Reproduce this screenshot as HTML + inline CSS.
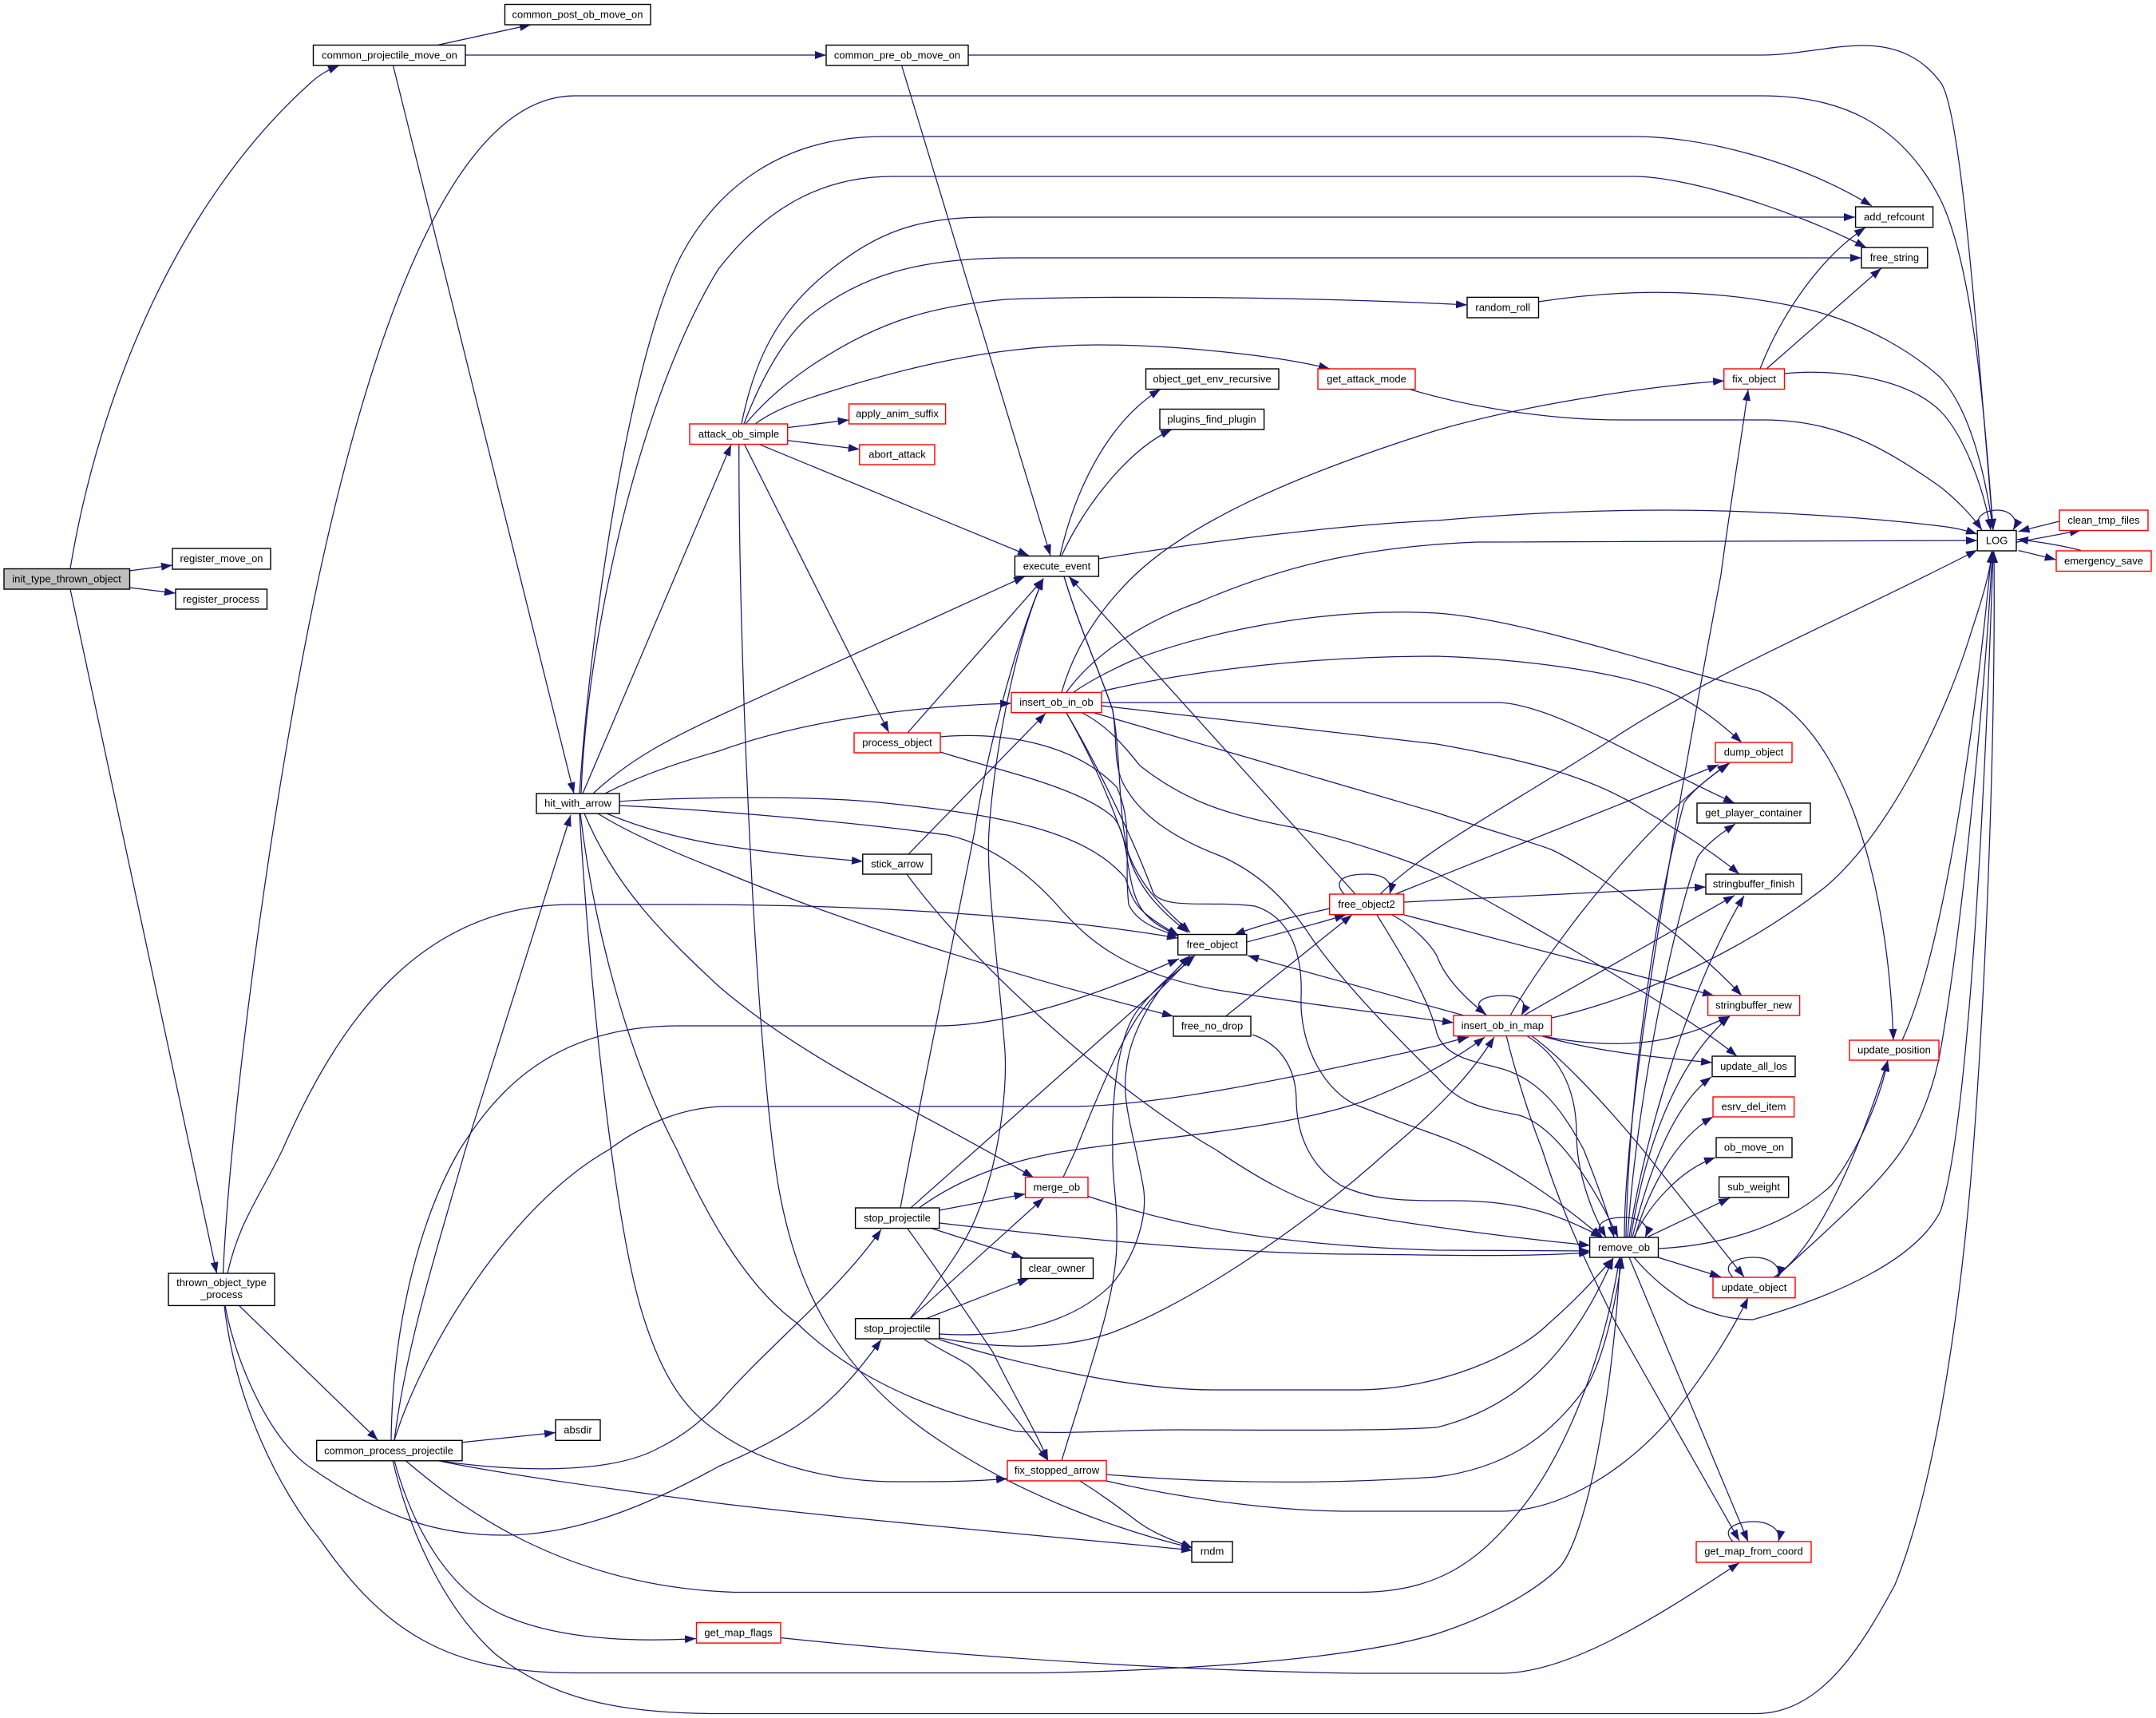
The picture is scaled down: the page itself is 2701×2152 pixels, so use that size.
<!DOCTYPE html>
<html>
<head>
<meta charset="utf-8">
<style>
html,body{margin:0;padding:0;background:#fff}
svg{display:block}
.e path{fill:none;stroke:#191970;stroke-width:1.25;marker-end:url(#a)}
.n rect{fill:#fff;stroke:#000;stroke-width:1.4}
.n rect.r{stroke:#f00}
.n rect.g{fill:#bfbfbf}
.n text{font-family:"Liberation Sans",sans-serif;font-size:13px;text-anchor:middle;fill:#000;transform:translateY(-0.5px)}
</style>
</head>
<body>
<svg xmlns="http://www.w3.org/2000/svg" width="2701" height="2152" viewBox="0 0 2701 2152">
<defs>
<marker id="a" markerUnits="userSpaceOnUse" markerWidth="16" markerHeight="12" refX="14" refY="5" orient="auto"><polygon points="0,0 14,5 0,10" fill="#191970"/></marker>
</defs>
<rect width="2701" height="2152" fill="#fff"/>
<g class="e">
<path d="M88,712 C125,490 225,250 390,103 C402,92 413,87 425,82"/>
<path d="M162,715 L216,708"/>
<path d="M162,736 L220,743"/>
<path d="M88,738 L271.5,1595"/>
<path d="M548,56.5 L665,31"/>
<path d="M583,69 L1035,69"/>
<path d="M492.5,82 L719,994"/>
<path d="M1213,69 L2207,69 C2250,69 2295,57 2334,57 C2380,57 2410,75 2431,103 C2456,135 2475,400 2497,664"/>
<path d="M1129.6,82 L1316,696"/>
<path d="M279.5,1595 C288,1400 340,1000 400,720 C450,490 550,120 720,120 L2207,120 C2300,120 2380,150 2431,250 C2470,330 2485,500 2497,664"/>
<path d="M726,994 C740,780 790,440 855,317 C900,235 980,171 1107,171 L2047,171 C2130,171 2250,200 2345,258"/>
<path d="M728,994 C735,800 800,500 900,337 C960,260 1030,221 1118,221 L2047,221 C2110,221 2240,260 2338,310"/>
<path d="M730,994 L916,557"/>
<path d="M743,994 C790,950 840,925 900,897 L1284,722"/>
<path d="M758,994 C800,972 850,955 900,941 C1000,905 1130,885 1267,881"/>
<path d="M776,1004 C820,1000 1000,995 1100,1005 C1250,1020 1360,1040 1410,1100 C1420,1130 1420,1140 1477,1172"/>
<path d="M776,1009 C900,1015 1070,1030 1187,1046 C1250,1060 1300,1105 1330,1140 C1370,1185 1420,1222 1531,1241 C1620,1255 1720,1268 1821,1281"/>
<path d="M760,1019 C800,1036 850,1050 900,1058 C960,1068 1020,1074 1081,1079"/>
<path d="M749,1019 C790,1045 850,1070 900,1089.5 C1080,1165 1300,1230 1470,1273"/>
<path d="M732,1019 C770,1110 830,1170 900,1235 C1010,1330 1150,1390 1295,1475"/>
<path d="M726,1019 C740,1250 770,1530 804,1643 C830,1728 860,1768 900,1794 C960,1837 1050,1857 1130,1856 C1175,1856 1220,1856 1262,1852"/>
<path d="M727,1019 C745,1170 790,1330 848,1440 C880,1510 930,1608 998,1657 C1050,1708 1130,1758 1273,1793 C1340,1797 1400,1791 1474,1791 C1600,1791 1720,1793 1800,1788 C1880,1768 1960,1718 2021,1576"/>
<path d="M925.8,557 C925,800 945,1300 975,1485 C995,1598 1040,1718 1187,1811 C1280,1872 1400,1917 1494,1939"/>
<path d="M986.7,535.6 L1063.6,526"/>
<path d="M986.7,551.7 L1076.8,562.7"/>
<path d="M951.7,556.8 L1289,696"/>
<path d="M932.7,556.8 L1113.5,917.4"/>
<path d="M1137,918 L1307.5,724.6"/>
<path d="M1178,923 C1240,917 1340,925 1399,986 C1420,1030 1408,1080 1414,1133 C1422,1150 1440,1163 1477,1172"/>
<path d="M1178,942 C1250,965 1350,985 1394,1023 C1420,1050 1405,1120 1440,1150 C1450,1160 1465,1167 1477,1172"/>
<path d="M1333,722 C1350,780 1385,860 1394,890 C1405,950 1400,1020 1414,1070 C1430,1110 1450,1130 1491,1168"/>
<path d="M1333,722 C1350,780 1385,860 1394,890 C1400,930 1395,950 1405,977 C1425,1020 1470,1050 1531,1073 C1590,1100 1620,1140 1646,1179 C1690,1240 1760,1310 1800,1349 C1830,1385 1860,1388 1903,1397 C1950,1410 2000,1490 2027,1550"/>
<path d="M1376,700 C1500,680 1680,657 1800,652 C1900,643 2000,639 2087,639 C2200,639 2340,648 2431,659 C2450,661 2465,665 2477,669"/>
<path d="M1328,696 C1345,620 1385,530 1454,487.5"/>
<path d="M1330,696 C1355,640 1410,565 1468,538"/>
<path d="M494,1804 C510,1678 550,1558 583,1440 L715,1021"/>
<path d="M490,1804 C492,1648 530,1519 576,1440 C620,1370 690,1285 850,1285 L1175,1285 C1270,1285 1390,1240 1477,1201"/>
<path d="M494,1804 C530,1688 640,1509 763,1440 C810,1405 860,1386 910,1386 L1340,1386 C1450,1386 1620,1350 1800,1310 C1815,1305 1828,1302 1840,1299"/>
<path d="M285,1595 C300,1529 325,1500 354,1440 C420,1290 520,1133 717,1133 L860,1133 C1060,1133 1300,1145 1476,1175"/>
<path d="M282,1635 C295,1708 340,1807 390,1839 C480,1902 550,1923 631,1923 C720,1923 810,1887 900,1837 C990,1798 1040,1768 1104,1678"/>
<path d="M281,1635 C295,1758 350,1867 402,1930 C480,2042 560,2095.5 720,2095.5 L1300,2095.5 C1500,2092 1700,2077 1800,2046.5 C1860,2027 1920,1997 1955,1962 C1990,1917 2020,1748 2030,1575"/>
<path d="M299.6,1635.5 L473.5,1804"/>
<path d="M579,1806.8 L696,1794.5"/>
<path d="M494,1829.5 C515,1907 560,1997 640,2027 C710,2055 800,2056.5 872,2052.5"/>
<path d="M492,1829.5 C515,1927 560,2017 620,2071.5 C690,2126.5 770,2146.5 900,2146.5 L2200,2146.5 C2280,2146.5 2330,2066.5 2374,1985 C2430,1847 2460,1598 2472,1440 C2490,1200 2500,900 2498,691"/>
<path d="M508,1829.5 C570,1882 700,1987 920,1994.5 L1700,1994.5 C1800,1994.5 1850,1957 1900,1897 C1960,1827 2010,1698 2029,1575"/>
<path d="M548,1829.5 C610,1839 750,1852 821,1816 C860,1797 880,1778 900,1758 C960,1688 1050,1618 1104,1540"/>
<path d="M548,1829.5 C630,1847 780,1867 900,1883 C1100,1907 1350,1927 1494,1942"/>
<path d="M1128,1513 C1160,1340 1210,1100 1221,1041 C1235,950 1270,810 1307,725"/>
<path d="M1141,1513 L1497,1197"/>
<path d="M1150,1514 C1210,1470 1280,1450 1348,1440 C1450,1425 1600,1415 1704,1381 C1760,1360 1820,1330 1860,1299"/>
<path d="M1176.7,1516 L1284.6,1495.5"/>
<path d="M1167,1538.6 L1281.7,1575.5"/>
<path d="M1137,1539 C1180,1598 1220,1658 1244,1694 C1270,1748 1295,1787 1313,1829.5"/>
<path d="M1177,1532 C1350,1552 1550,1571 1700,1571 C1800,1572 1900,1575 1992,1569"/>
<path d="M1140,1652 C1180,1598 1210,1559 1225,1519 C1250,1460 1262,1370 1259,1317 C1250,1200 1235,1100 1239,1041 C1245,950 1270,810 1307,725"/>
<path d="M1140,1652 L1307.5,1500.6"/>
<path d="M1159.4,1652 L1289,1601.5"/>
<path d="M1177,1671 C1250,1676 1340,1663 1394,1607.5 C1425,1568 1440,1519 1431,1480 C1420,1420 1405,1380 1411,1340 C1415,1300 1440,1245 1491,1197"/>
<path d="M1330,1829.5 C1370,1698 1400,1618 1399,1552.5 C1400,1500 1393,1480 1394,1440 C1393,1400 1395,1300 1428,1262 C1445,1240 1470,1220 1491,1197"/>
<path d="M1332,1474.5 L1348,1440 C1380,1360 1410,1290 1434,1262 C1450,1240 1475,1220 1494,1197"/>
<path d="M1177,1676 C1240,1688 1320,1693 1388,1671 C1480,1638 1620,1549 1741,1440 C1800,1390 1840,1350 1872,1299"/>
<path d="M1158,1678 C1190,1698 1205,1703 1216,1712 C1245,1738 1280,1787 1313,1829.5"/>
<path d="M1177,1678 C1270,1708 1420,1741 1520,1741 L1700,1741 C1800,1741 1900,1698 1940,1658 C1980,1623 2000,1599 2021,1576"/>
<path d="M1352,1854.5 C1380,1872 1400,1887 1420,1902 C1445,1922 1470,1929 1494,1939"/>
<path d="M1386,1847 C1480,1855 1620,1862 1800,1850 C1900,1837 1950,1788 1989,1735 C2010,1698 2025,1628 2032,1575"/>
<path d="M1386,1855 C1480,1877 1600,1893 1690,1893 L1880,1893 C1960,1893 2040,1837 2093,1776 C2130,1728 2165,1678 2190,1625.5"/>
<path d="M1363,1498.5 C1440,1524 1560,1559 1800,1566 L1992,1567"/>
<path d="M1138,1070 L1310,893.5"/>
<path d="M1136,1095 C1220,1210 1400,1370 1523,1440 C1580,1479 1620,1499 1663,1514 C1730,1529 1880,1549 1992,1560"/>
<path d="M1536,1272.6 L1693.8,1146"/>
<path d="M1569,1296 C1610,1310 1624,1345 1624,1380 C1625,1420 1640,1460 1680,1485 C1720,1504 1760,1504 1820,1504 C1900,1504 1950,1519 2007,1550"/>
<path d="M1562,1180 C1600,1170 1640,1160 1686,1146"/>
<path d="M1666,1138 C1620,1148 1580,1158 1546,1171"/>
<path d="M1698,1120 L1339,722"/>
<path d="M1684,1120 C1670,1105 1680,1095 1712,1095 C1735,1095 1745,1105 1741,1120"/>
<path d="M1729,1120 C1790,1060 1890,1010 2018,927 C2150,840 2300,780 2477,689"/>
<path d="M1748,1120 L2153,958"/>
<path d="M1759,1130 C1850,1125 2000,1118 2137,1111"/>
<path d="M1759,1146 L2147,1247"/>
<path d="M1744,1146 C1770,1160 1790,1180 1800,1197 C1810,1225 1835,1250 1862,1271"/>
<path d="M1725,1146 C1755,1195 1790,1250 1800,1294 C1810,1325 1850,1330 1875,1337 C1930,1350 1960,1395 1984,1440 C2000,1480 2015,1520 2022,1550"/>
<path d="M1834,1272 L1563,1197"/>
<path d="M1862,1272 C1840,1255 1860,1247 1884,1247 C1905,1247 1915,1255 1906,1272"/>
<path d="M1892,1272 C1945,1180 2070,1020 2167,956"/>
<path d="M1909,1272 L2173,1121.6"/>
<path d="M1944,1275 C2020,1258 2160,1210 2288,1110 C2370,1040 2440,890 2470,790 C2485,745 2492,720 2496,691"/>
<path d="M1929,1297 C1990,1310 2060,1312 2110,1295 C2130,1290 2150,1280 2167,1273"/>
<path d="M1929,1297 C2000,1318 2080,1325 2145,1331"/>
<path d="M1912,1297 C1950,1320 1975,1360 1975,1420 C1975,1470 1995,1520 2012,1550"/>
<path d="M1918,1297 C1950,1320 2000,1370 2058,1440 L2185,1599.5"/>
<path d="M1887,1297 C1900,1350 1920,1410 1932,1440 C1960,1529 2000,1608 2024,1657 L2179,1930"/>
<path d="M2035,1550 C2035,1400 2085,1100 2156,720 C2165,650 2180,560 2190,488"/>
<path d="M2037,1550 C2040,1380 2070,1150 2110,1005 C2125,985 2145,972 2165,956"/>
<path d="M2039,1550 C2050,1380 2095,1160 2127,1073 C2140,1055 2155,1045 2174,1032"/>
<path d="M2041,1550 C2060,1420 2120,1230 2185,1122"/>
<path d="M2043,1550 C2060,1440 2100,1330 2167,1273"/>
<path d="M2045,1550 C2065,1470 2095,1385 2144,1349"/>
<path d="M2048,1550 C2065,1490 2100,1425 2146,1399"/>
<path d="M2047,1550 C2065,1510 2105,1465 2149,1450"/>
<path d="M2064,1549.6 L2167,1500.6"/>
<path d="M2077,1575 L2156,1599.5"/>
<path d="M2077,1564 C2140,1561 2230,1544 2294,1485 C2325,1445 2355,1380 2365,1328"/>
<path d="M2047,1575 C2075,1608 2100,1623 2116,1634 C2150,1648 2170,1653 2196,1653 C2300,1623 2400,1579 2431,1517 C2470,1400 2490,900 2497,691"/>
<path d="M2041,1575 L2190,1931"/>
<path d="M2007,1550 C1995,1530 2015,1525 2035,1525 C2055,1525 2068,1535 2061,1550"/>
<path d="M2222,1600 C2270,1569 2320,1470 2365,1328"/>
<path d="M2225,1600 C2290,1539 2350,1489 2383,1440 C2410,1400 2425,1350 2431,1316 C2460,1150 2488,850 2496,691"/>
<path d="M2171,1600 C2155,1584 2175,1575 2197,1575 C2215,1575 2232,1584 2228,1600"/>
<path d="M2171,1931 C2155,1915 2175,1906 2197,1906 C2215,1906 2232,1915 2228,1931"/>
<path d="M978,2051.5 C1100,2064.5 1400,2091.5 1700,2096 L1880,2096 C1960,2096 2060,2036.5 2179,1957.5"/>
<path d="M2383,1303 C2440,1180 2480,860 2495,691"/>
<path d="M1345,867 C1370,850 1395,838 1417,828 C1500,795 1650,760 1800,768 C1900,775 2050,825 2202,865 C2310,910 2365,1100 2372,1303"/>
<path d="M1336,867 C1370,820 1430,780 1500,755 C1600,712 1700,685 1850,679 L2477,677"/>
<path d="M1330,867 C1345,815 1375,765 1422,720 C1480,665 1590,605 1800,539 C1900,510 2050,485 2160,477"/>
<path d="M1380,866 C1470,845 1620,822 1800,822 C1900,825 2020,840 2087,865 C2125,880 2160,910 2182,930"/>
<path d="M1380,880 L1880,880 C1950,885 2050,950 2173,1006"/>
<path d="M1380,884 L1800,932 C1900,950 1990,970 2058,1014 C2110,1045 2150,1070 2179,1095"/>
<path d="M1371,893 L1800,1018 C1880,1045 1920,1055 1943,1064 C1990,1085 2110,1170 2182,1247"/>
<path d="M1356,893 C1385,908 1405,930 1428,959 C1480,1000 1530,1020 1623,1037 C1700,1055 1770,1080 1800,1094 C1860,1125 2100,1260 2176,1323"/>
<path d="M1336,893 C1370,950 1420,1050 1445,1119 C1460,1140 1520,1128 1572,1135 C1620,1150 1632,1200 1630,1250 C1628,1310 1660,1370 1704,1386 C1740,1400 1780,1415 1800,1422 C1880,1450 1960,1510 2007,1550"/>
<path d="M1336,893 C1380,970 1405,1040 1415,1075 C1430,1120 1460,1145 1488,1168"/>
<path d="M929,531 C945,450 975,390 1038,340 C1100,290 1150,272 1240,272 L2324,272"/>
<path d="M932,531 C955,470 985,420 1015,395 C1080,345 1150,323 1270,323 L2332,323"/>
<path d="M934,531 C960,500 985,480 1015,459 C1090,410 1150,385 1260,375 C1400,370 1650,372 1838,382"/>
<path d="M946,531 C975,510 1010,500 1038,491 C1120,465 1240,432 1376,432 C1470,432 1600,445 1666,462"/>
<path d="M1764,487 C1840,510 1940,526 2030,526 L2210,526 C2300,526 2360,560 2431,610 C2450,625 2470,645 2483,664"/>
<path d="M1927,378 C2000,367 2120,355 2259,386 C2340,405 2400,445 2431,473 C2465,510 2485,580 2497,664"/>
<path d="M2235,468 C2290,462 2385,470 2431,515 C2460,545 2485,610 2494,664"/>
<path d="M2205,462 C2225,410 2270,330 2337,285"/>
<path d="M2213,462 L2356.8,336"/>
<path d="M2483,664 C2470,650 2485,639 2502,639 C2518,639 2530,650 2522,664"/>
<path d="M2580,653 L2528.6,665.7"/>
<path d="M2526,679.3 L2607,664.3"/>
<path d="M2528.6,689.5 L2575.7,701"/>
<path d="M2607,689.5 C2590,685 2560,679 2527,675.6"/>
</g>
<g class="n">
<rect class="g" x="5" y="712.5" width="157.5" height="25.5"/><text x="83.5" y="730">init_type_thrown_object</text>
<rect x="632.5" y="5.5" width="182.5" height="25.5"/><text x="723.5" y="23">common_post_ob_move_on</text>
<rect x="392.5" y="56.5" width="190.5" height="25.5"/><text x="488" y="74">common_projectile_move_on</text>
<rect x="216" y="687" width="123" height="26"/><text x="277.5" y="704.5">register_move_on</text>
<rect x="220" y="738" width="114.5" height="25"/><text x="277" y="755.5">register_process</text>
<rect class="r" x="864" y="531" width="122.7" height="25.5"/><text x="925.5" y="548.5">attack_ob_simple</text>
<rect x="1035" y="56.5" width="178" height="25.5"/><text x="1124" y="74">common_pre_ob_move_on</text>
<rect x="1435.5" y="462" width="166.5" height="25.5"/><text x="1518.5" y="479.5">object_get_env_recursive</text>
<rect class="r" x="1651" y="462" width="122" height="25.5"/><text x="1712" y="479.5">get_attack_mode</text>
<rect class="r" x="1063.6" y="506" width="121" height="25"/><text x="1124" y="523">apply_anim_suffix</text>
<rect class="r" x="1076.8" y="557" width="94.2" height="25"/><text x="1124" y="574">abort_attack</text>
<rect x="1453" y="512.5" width="130.6" height="25.5"/><text x="1518" y="530">plugins_find_plugin</text>
<rect x="1271.4" y="696.5" width="105" height="25.5"/><text x="1324" y="714">execute_event</text>
<rect x="2324.6" y="259" width="97" height="25.7"/><text x="2373" y="276.5">add_refcount</text>
<rect x="2332" y="310" width="82.8" height="25.7"/><text x="2373.4" y="327.5">free_string</text>
<rect x="1838" y="372.4" width="89.5" height="25.6"/><text x="1882.7" y="390">random_roll</text>
<rect class="r" x="2159.7" y="462" width="75.8" height="25.5"/><text x="2197.6" y="479.5">fix_object</text>
<rect x="2477.3" y="664.5" width="48.7" height="25.5"/><text x="2501.6" y="682">LOG</text>
<rect class="r" x="2580" y="639" width="111" height="25.5"/><text x="2635.5" y="656.5">clean_tmp_files</text>
<rect class="r" x="2576" y="690" width="119" height="25.5"/><text x="2635.5" y="707.5">emergency_save</text>
<rect x="672" y="994" width="104" height="25"/><text x="724" y="1011">hit_with_arrow</text>
<rect class="r" x="1070" y="918" width="108" height="25"/><text x="1124" y="935">process_object</text>
<rect class="r" x="1267" y="867.4" width="113" height="25.3"/><text x="1323.5" y="884.5">insert_ob_in_ob</text>
<rect x="1080.8" y="1070" width="86.2" height="25"/><text x="1124" y="1087">stick_arrow</text>
<rect x="1475.7" y="1170.5" width="86.1" height="25.6"/><text x="1518.7" y="1188">free_object</text>
<rect class="r" x="1665.7" y="1120" width="93" height="25.6"/><text x="1712" y="1137.5">free_object2</text>
<rect x="1470" y="1273" width="97" height="25"/><text x="1518.5" y="1290">free_no_drop</text>
<rect class="r" x="2149" y="930" width="96" height="25"/><text x="2197" y="947">dump_object</text>
<rect x="2126" y="1006" width="142" height="25"/><text x="2197" y="1023">get_player_container</text>
<rect x="2137" y="1095" width="120" height="25"/><text x="2197" y="1112">stringbuffer_finish</text>
<rect class="r" x="2139.6" y="1247" width="115" height="25"/><text x="2197" y="1264">stringbuffer_new</text>
<rect x="2145" y="1323" width="104" height="25.6"/><text x="2197" y="1340.5">update_all_los</text>
<rect class="r" x="2146" y="1374" width="101.6" height="25"/><text x="2197" y="1391">esrv_del_item</text>
<rect x="2150" y="1425" width="95" height="25"/><text x="2197.5" y="1442">ob_move_on</text>
<rect class="r" x="2317" y="1303" width="112" height="25"/><text x="2373" y="1320">update_position</text>
<rect class="r" x="1821" y="1272" width="122.6" height="25.6"/><text x="1882.3" y="1289.5">insert_ob_in_map</text>
<rect x="211" y="1595" width="133" height="40.4"/><text x="277.5" y="1611.5">thrown_object_type</text><text x="277.5" y="1626.5">_process</text>
<rect x="396.7" y="1804.3" width="182.3" height="25.5"/><text x="487" y="1822">common_process_projectile</text>
<rect x="696" y="1778.5" width="56" height="25.8"/><text x="724" y="1796">absdir</text>
<rect class="r" x="872.5" y="2032.5" width="105.5" height="25.6"/><text x="925" y="2050">get_map_flags</text>
<rect class="r" x="1284.6" y="1474.5" width="78.4" height="25.8"/><text x="1323.8" y="1492">merge_ob</text>
<rect x="1071.6" y="1513" width="105.1" height="25.6"/><text x="1124" y="1530.5">stop_projectile</text>
<rect x="1279" y="1576" width="90.5" height="25.5"/><text x="1324" y="1593.5">clear_owner</text>
<rect x="1071.6" y="1651.7" width="105.1" height="25.3"/><text x="1124" y="1669">stop_projectile</text>
<rect class="r" x="1262" y="1829.5" width="124" height="25.4"/><text x="1324" y="1846.5">fix_stopped_arrow</text>
<rect x="1493" y="1931" width="51" height="26"/><text x="1518.5" y="1948">rndm</text>
<rect x="2153.6" y="1474" width="87.1" height="26"/><text x="2197" y="1491.5">sub_weight</text>
<rect x="1991.6" y="1550" width="85.9" height="25"/><text x="2034.5" y="1567.5">remove_ob</text>
<rect class="r" x="2146" y="1600" width="103" height="25.7"/><text x="2197.5" y="1617.5">update_object</text>
<rect class="r" x="2125" y="1931" width="144" height="26"/><text x="2197" y="1948">get_map_from_coord</text>
</g>
</svg>
</body>
</html>
